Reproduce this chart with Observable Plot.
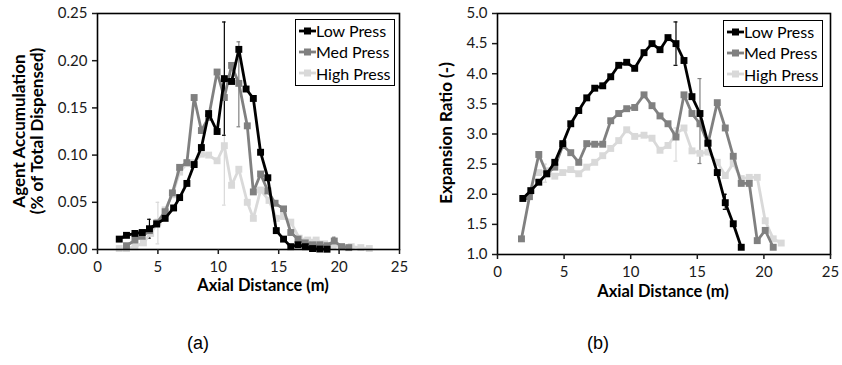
<!DOCTYPE html>
<html>
<head>
<meta charset="utf-8">
<script src="https://cdn.jsdelivr.net/npm/d3@7"></script>
<script src="https://cdn.jsdelivr.net/npm/@observablehq/plot@0.6"></script>
<style>
  body { margin: 0; background: #fff; font-family: Lato, sans-serif; }
  #wrap { position: relative; width: 842px; height: 365px; overflow: hidden; }
  .panel { position: absolute; top: 0; }
  .ytitle { position: absolute; font-weight: bold; font-size: 17px; text-align: center; line-height: 18px; white-space: nowrap; transform: translate(-50%, -50%) rotate(-90deg); }
  .xtitle { position: absolute; font-weight: bold; font-size: 16.5px; white-space: nowrap; transform: translate(-50%, -50%); }
  .cap { position: absolute; font-family: "Liberation Sans", Arial, sans-serif; font-size: 18px; transform: translate(-50%, -50%); }
  .legend { position: absolute; border: 1.5px solid #000; background: #fff; font-size: 16px; padding: 0px 3px 1px 3px; }
  .legend div { height: 21.3px; line-height: 21.3px; white-space: nowrap; display: flex; align-items: center; }
  .legend svg { margin-right: 0px; }
</style>
</head>
<body>
<div id="wrap"></div>
<script>
// ---------- Data ----------
const seriesNames = ["Low Press", "Med Press", "High Press"];
const seriesColors = ["#000000", "#808080", "#d9d9d9"];

// (a) Agent accumulation (% of total dispensed)
const aLowX  = [1.8, 2.4, 3.1, 3.7, 4.3, 4.9, 5.6, 6.3, 6.8, 7.4, 8.0, 8.6, 9.2, 9.9, 10.5, 11.1, 11.7, 12.3, 12.9, 13.5, 14.1, 14.8, 15.4, 16.0, 16.6, 17.2, 17.8, 18.4, 19.0];
const aLowY  = [0.011, 0.015, 0.017, 0.018, 0.022, 0.027, 0.033, 0.044, 0.055, 0.07, 0.09, 0.108, 0.144, 0.125, 0.181, 0.178, 0.212, 0.17, 0.16, 0.103, 0.076, 0.02, 0.011, 0.003, 0.005, 0.003, 0.001, 0.0005, 0.0003];
const aMedX  = [2.4, 3.1, 3.7, 4.3, 4.9, 5.6, 6.2, 6.8, 7.4, 8.0, 8.6, 9.2, 9.9, 10.5, 11.1, 11.7, 12.4, 12.9, 13.5, 14.1, 14.7, 15.4, 16.0, 16.6, 17.2, 17.8, 18.4, 19.0, 19.6, 20.2, 20.8];
const aMedY  = [0.004, 0.01, 0.014, 0.02, 0.028, 0.04, 0.06, 0.087, 0.092, 0.161, 0.126, 0.14, 0.188, 0.161, 0.195, 0.176, 0.131, 0.061, 0.08, 0.062, 0.049, 0.043, 0.018, 0.011, 0.007, 0.005, 0.005, 0.004, 0.009, 0.003, 0.002];
const aHighX = [1.8, 2.4, 3.1, 3.8, 4.4, 5.0, 5.6, 6.2, 6.8, 7.4, 8.0, 8.6, 9.2, 9.9, 10.5, 11.1, 11.7, 12.4, 12.9, 13.5, 14.2, 14.8, 15.4, 16.0, 16.7, 17.4, 18.1, 18.8, 19.5, 20.2, 21.0, 21.8, 22.5];
const aHighY = [0.001, 0.001, 0.003, 0.007, 0.017, 0.029, 0.042, 0.058, 0.082, 0.091, 0.092, 0.101, 0.1, 0.094, 0.11, 0.068, 0.085, 0.05, 0.033, 0.063, 0.052, 0.033, 0.035, 0.029, 0.012, 0.01, 0.01, 0.006, 0.004, 0.003, 0.003, 0.002, 0.001];
// error bars (a): series index, x, low, high
const aErrS  = [0, 0, 1, 2, 2, 1];
const aErrX  = [10.5, 4.3, 11.7, 10.5, 5.0, 19.6];
const aErrLo = [0.121, 0.012, 0.13, 0.047, 0.006, 0.006];
const aErrHi = [0.241, 0.032, 0.22, 0.173, 0.05, 0.013];
const aYTicks = [0, 0.05, 0.10, 0.15, 0.20, 0.25];

// (b) Expansion ratio
const bLowX  = [1.9, 2.5, 3.1, 3.7, 4.3, 4.9, 5.5, 6.1, 6.7, 7.3, 7.9, 8.5, 9.1, 9.7, 10.3, 11.0, 11.6, 12.2, 12.8, 13.4, 14.0, 14.6, 15.2, 15.8, 16.5, 17.1, 17.7, 18.3];
const bLowY  = [1.93, 2.06, 2.2, 2.34, 2.53, 2.84, 3.17, 3.39, 3.6, 3.76, 3.8, 3.95, 4.14, 4.19, 4.09, 4.35, 4.5, 4.4, 4.6, 4.5, 4.22, 3.62, 3.34, 2.85, 2.36, 1.86, 1.51, 1.12];
const bMedX  = [1.8, 2.4, 3.1, 3.7, 4.3, 4.9, 5.5, 6.1, 6.7, 7.3, 7.9, 8.5, 9.1, 9.7, 10.3, 11.0, 11.6, 12.2, 12.8, 13.4, 14.0, 14.6, 15.2, 15.8, 16.5, 17.1, 17.7, 18.3, 18.9, 19.5, 20.1, 20.7];
const bMedY  = [1.26, 1.96, 2.66, 2.34, 2.45, 2.81, 2.69, 2.53, 2.84, 2.83, 2.83, 3.22, 3.34, 3.42, 3.44, 3.65, 3.47, 3.3, 3.17, 2.95, 3.65, 3.34, 3.17, 2.84, 3.52, 3.1, 2.63, 2.18, 2.18, 1.23, 1.4, 1.12];
const bHighX = [3.1, 3.7, 4.3, 4.9, 5.5, 6.1, 6.7, 7.3, 7.9, 8.5, 9.1, 9.7, 10.3, 11.0, 11.6, 12.2, 12.8, 13.4, 14.0, 14.6, 15.2, 15.8, 16.5, 17.1, 17.7, 18.3, 18.9, 19.5, 20.1, 20.7, 21.3];
const bHighY = [2.36, 2.39, 2.3, 2.36, 2.41, 2.34, 2.45, 2.53, 2.64, 2.76, 2.89, 3.07, 2.96, 2.98, 2.93, 2.73, 2.81, 3.0, 3.1, 2.72, 2.68, 2.7, 2.53, 2.31, 2.51, 2.26, 2.28, 2.28, 1.56, 1.26, 1.19];
const bErrS  = [0, 1, 2, 2, 0];
const bErrX  = [13.4, 15.2, 13.4, 3.6, 17.1];
const bErrLo = [4.14, 2.51, 2.55, 2.2, 1.75];
const bErrHi = [4.86, 3.92, 3.1, 2.5, 2.0];
const bYTicks = [1.0, 1.5, 2.0, 2.5, 3.0, 3.5, 4.0, 4.5, 5.0];

const xTicks = [0, 5, 10, 15, 20, 25];

// ---------- Helpers ----------
function rows(xs, ys, s) { return xs.map((x, i) => ({x, y: ys[i], s})); }
function errRows(S, X, L, H) { return X.map((x, i) => ({x, lo: L[i], hi: H[i], s: S[i]})); }

function makeChart(series, errs, opts) {
  const order = [2, 1, 0]; // draw High first, Low on top
  const marks = [];
  for (const k of order) {
    const e = errs.filter(d => d.s === k);
    marks.push(Plot.ruleX(e, {x: "x", y1: "lo", y2: "hi", stroke: seriesColors[k], strokeWidth: 1.2}));
    marks.push(Plot.ruleY(e, {y: "lo", x1: d => d.x - 0.15, x2: d => d.x + 0.15, stroke: seriesColors[k], strokeWidth: 1.2}));
    marks.push(Plot.ruleY(e, {y: "hi", x1: d => d.x - 0.15, x2: d => d.x + 0.15, stroke: seriesColors[k], strokeWidth: 1.2}));
  }
  for (const k of order) {
    marks.push(Plot.line(series[k], {x: "x", y: "y", stroke: seriesColors[k], strokeWidth: 2.8}));
    marks.push(Plot.dot(series[k], {x: "x", y: "y", symbol: "square", r: 3.9, fill: seriesColors[k], stroke: "none"}));
  }
  marks.push(Plot.frame({stroke: "#000", strokeWidth: 1.6}));
  marks.push(Plot.axisX({ticks: xTicks, tickSize: 5, tickPadding: 7, tickFormat: d3.format("d"), label: null, fontSize: 15, strokeWidth: 1.5}));
  marks.push(Plot.axisY({ticks: opts.yTicks, tickSize: 5, tickPadding: 5, tickFormat: d3.format(opts.fmt), label: null, fontSize: 15, strokeWidth: 1.5}));
  return Plot.plot({
    width: opts.width, height: opts.height,
    marginLeft: opts.ml, marginRight: opts.mr, marginTop: opts.mt, marginBottom: opts.mb,
    x: {domain: [0, 25]},
    y: {domain: opts.yDomain},
    style: {fontFamily: "Lato, sans-serif", fontSize: "15px", color: "#1a1a1a", background: "transparent"},
    marks
  });
}

function legend(left, top) {
  const div = document.createElement("div");
  div.className = "legend";
  div.style.left = left + "px";
  div.style.top = top + "px";
  seriesNames.forEach((name, k) => {
    const row = document.createElement("div");
    row.innerHTML = `<svg width="17" height="10"><line x1="0" x2="17" y1="5" y2="5" stroke="${seriesColors[k]}" stroke-width="2.8"/><rect x="5" y="1.5" width="7" height="7" fill="${seriesColors[k]}"/></svg><span>${name}</span>`;
    div.appendChild(row);
  });
  return div;
}

const wrap = document.getElementById("wrap");

const aSeries = [rows(aLowX, aLowY, 0), rows(aMedX, aMedY, 1), rows(aHighX, aHighY, 2)];
const chartA = makeChart(aSeries, errRows(aErrS, aErrX, aErrLo, aErrHi),
  {width: 420, height: 300, ml: 97, mr: 21, mt: 13, mb: 51, yDomain: [0, 0.25], yTicks: aYTicks, fmt: ".2f"});
const pa = document.createElement("div"); pa.className = "panel"; pa.style.left = "0px"; pa.appendChild(chartA); wrap.appendChild(pa);

const bSeries = [rows(bLowX, bLowY, 0), rows(bMedX, bMedY, 1), rows(bHighX, bHighY, 2)];
const chartB = makeChart(bSeries, errRows(bErrS, bErrX, bErrLo, bErrHi),
  {width: 422, height: 300, ml: 77, mr: 12, mt: 13, mb: 46, yDomain: [1, 5], yTicks: bYTicks, fmt: ".1f"});
const pb = document.createElement("div"); pb.className = "panel"; pb.style.left = "420px"; pb.appendChild(chartB); wrap.appendChild(pb);

function addText(cls, html, x, y) {
  const d = document.createElement("div"); d.className = cls; d.innerHTML = html;
  d.style.left = x + "px"; d.style.top = y + "px"; wrap.appendChild(d);
}
addText("ytitle", "Agent Accumulation<br>(% of Total Dispensed)", 28, 131);
addText("ytitle", "Expansion Ratio (-)", 446, 133);
addText("xtitle", "Axial Distance (m)", 263, 285);
addText("xtitle", "Axial Distance (m)", 663, 291);
addText("cap", "(a)", 198, 343);
addText("cap", "(b)", 598, 343);

wrap.appendChild(legend(295, 19));
wrap.appendChild(legend(723, 20));
</script>
</body>
</html>
